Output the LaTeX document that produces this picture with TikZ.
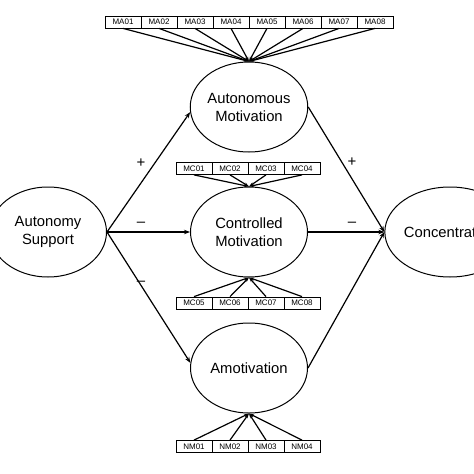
\documentclass[tikz,border=0pt]{standalone}
\usepackage{fontspec}
\setmainfont{Liberation Sans}
\usetikzlibrary{shapes.geometric,arrows.meta}
\begin{document}
\begin{tikzpicture}[x=1pt,y=-1pt,
 lat/.style={draw,ellipse,line width=1pt,minimum width=117pt,minimum height=90pt,inner sep=0pt,align=center,font=\fontsize{14.8}{18}\selectfont},
 ind/.style={draw,line width=0.8pt,minimum width=36pt,minimum height=12pt,inner sep=0pt,font=\fontsize{8}{8}\selectfont},
 structarrow/.style={line width=1.2pt,-{Stealth[length=6pt,width=4.5pt]}},
 loadarrow/.style={line width=1.2pt,-{Stealth[length=5pt,width=3pt]}},
 sign/.style={font=\fontsize{15}{15}\selectfont}]
\useasboundingbox (0,0) rectangle (474,474);
\clip (0,0) rectangle (474,474);
% latent variables
\node[lat] (as) at (48,232) {Autonomy\\Support};
\node[lat] (am) at (249,107) {Autonomous\\Motivation};
\node[lat] (cm) at (249,232) {Controlled\\Motivation};
\node[lat] (nm) at (249,368) {Amotivation};
\node[lat] (co) at (450,232) {Concentration};
% indicators
\foreach \i [count=\k] in {01,02,03,04,05,06,07,08} {
  \node[ind] (MA\i) at ({87+36*\k},22) {MA\i};
  \draw[loadarrow] (MA\i.south) -- (am.north);
}
\foreach \i [count=\k] in {01,02,03,04} {
  \node[ind] (MC\i) at ({158+36*\k},168.5) {MC\i};
  \draw[loadarrow] (MC\i.south) -- (cm.north);
}
\foreach \i [count=\k] in {05,06,07,08} {
  \node[ind] (MC\i) at ({158+36*\k},303) {MC\i};
  \draw[loadarrow] (MC\i.north) -- (cm.south);
}
\foreach \i [count=\k] in {01,02,03,04} {
  \node[ind] (NM\i) at ({158+36*\k},446.5) {NM\i};
  \draw[loadarrow] (NM\i.north) -- (nm.south);
}
% structural paths
\draw[structarrow] (as.east) -- (am.185);
\draw[structarrow] (as.east) -- (cm.west);
\draw[structarrow] (as.east) -- (nm.175);
\draw[structarrow] (am.east) -- (co.west);
\draw[structarrow] (cm.east) -- (co.west);
\draw[structarrow] (nm.east) -- (co.west);
% signs
\node[sign] (s1) at (141,163) {+};
\node[sign] (s2) at (141,224) {–};
\node[sign] (s3) at (141,283) {–};
\node[sign] (s4) at (352,162) {+};
\node[sign] (s5) at (352,224) {–};
\end{tikzpicture}
\end{document}
